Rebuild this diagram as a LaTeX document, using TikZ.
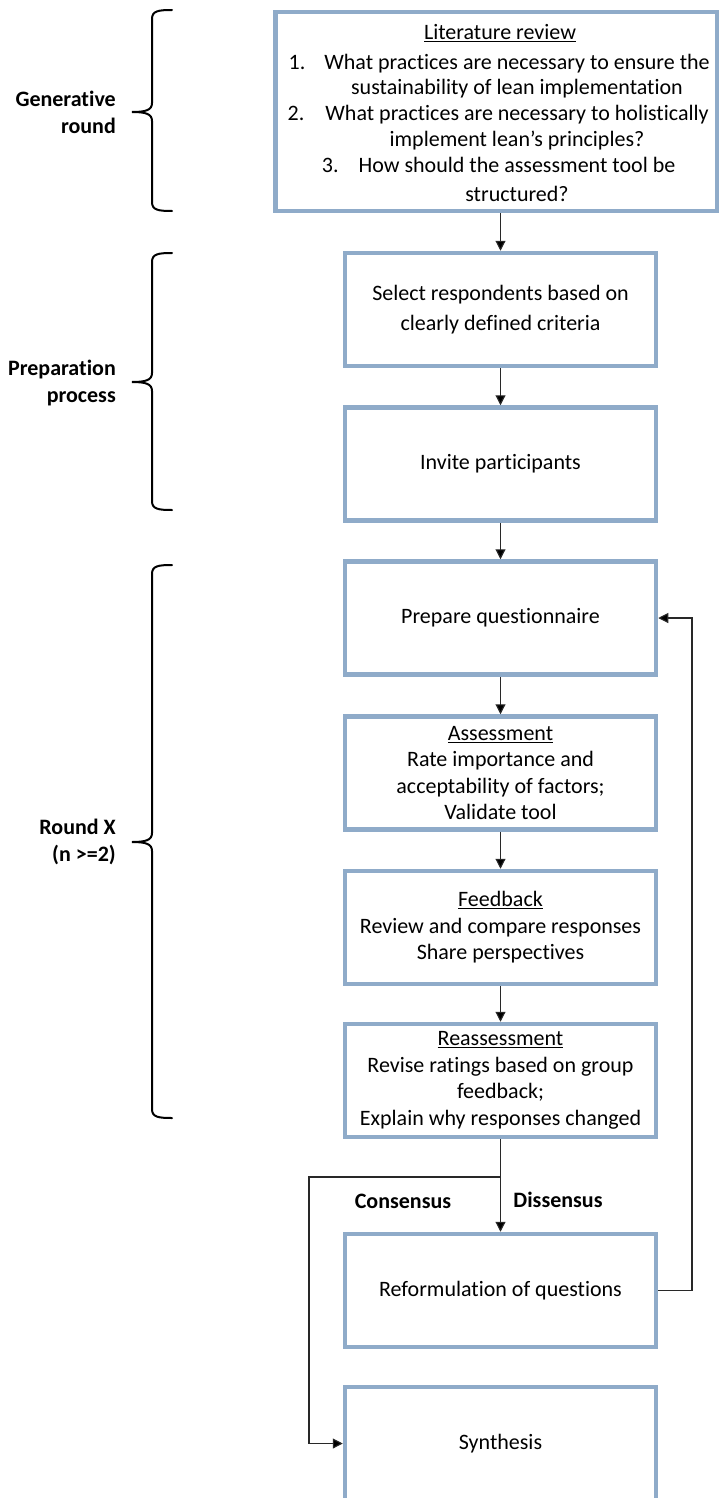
\documentclass[tikz,border=0pt]{standalone}
\usepackage{fontspec}
\setmainfont{Carlito}[Ligatures=NoCommon]
\usetikzlibrary{arrows.meta}
\definecolor{boxblue}{RGB}{143,171,201}
\definecolor{linegrey}{RGB}{40,40,40}
\tikzset{
  box/.style={draw=boxblue, line width=4.5pt, fill=white, minimum width=311pt, minimum height=113pt,
    inner sep=0pt, align=center, font=\fontsize{22}{26.5}\selectfont},
  txt/.style={inner sep=0pt, align=center, font=\fontsize{22}{25.8}\selectfont},
  lbl/.style={inner sep=0pt, align=right, anchor=east, font=\bfseries\fontsize{22}{27}\selectfont},
  brlbl/.style={inner sep=0pt, font=\bfseries\fontsize{22}{26}\selectfont},
  conn/.style={line width=1.1pt, draw=linegrey, -{Triangle[length=10pt,width=10pt,fill=black]}},
  brace/.style={line width=2pt, draw=black, line cap=round}
}
\newcommand\mybrace[3]{%
  \draw[brace] (172,#1) .. controls (158,#1) and (152,#1+1) .. (152,#1+9)
    -- (152,#2-9) .. controls (152,#2-2) and (146,#2) .. (132,#2)
    .. controls (146,#2) and (152,#2+2) .. (152,#2+9)
    -- (152,#3-9) .. controls (152,#3-1) and (158,#3) .. (172,#3);}
\begin{document}
\begin{tikzpicture}[x=1pt,y=-1pt]
\useasboundingbox (0,0) rectangle (719,1498);
% boxes
\node[box, minimum width=441.5pt, minimum height=199pt] (b1) at (496,111.5) {};
\node[txt] (b1title) at (500,33) {\underline{Literature review}};
\node[txt] (b1q) at (517,127.5) {\llap{1.\hspace{19pt}}What practices are necessary to ensure the\\
  sustainability of lean implementation\\
  \llap{2.\hspace{21pt}}What practices are necessary to holistically\\
  implement lean’s principles?\\
  \llap{3.\hspace{20pt}}How should the assessment tool be\\[3pt]
  structured?};
\node[box] (b2) at (500.5,309.5) {Select respondents based on\\[3pt]clearly defined criteria};
\node[box] (b3) at (500.5,464) {Invite participants};
\node[box] (b4) at (500.5,618) {Prepare questionnaire};
\node[box] (b5) at (500.5,773) {\underline{Assessment}\\Rate importance and\\acceptability of factors;\\Validate tool};
\node[box] (b6) at (500.5,927.5) {\underline{Feedback}\\Review and compare responses\\Share perspectives};
\node[box] (b7) at (500.5,1080.5) {\underline{Reassessment}\\Revise ratings based on group\\feedback;\\Explain why responses changed};
\node[box] (b8) at (500.5,1290.5) {Reformulation of questions};
\node[box] (b9) at (500.5,1443.5) {Synthesis};
% connectors
\draw[conn] (b1.south -| b2.north) -- (b2.north);
\draw[conn] (b2) -- (b3);
\draw[conn] (b3) -- (b4);
\draw[conn] (b4) -- (b5);
\draw[conn] (b5) -- (b6);
\draw[conn] (b6) -- (b7);
\draw[conn] (b7) -- (b8);
\coordinate (split) at (b7.south |- 0,1177);
\coordinate (cons) at (309,1177);
\draw[conn] (split) -- (cons) |- (b9.west);
\coordinate (loop) at (692,1290.5);
\draw[conn] (b8.east) -- (loop) |- (b4.east);
\node[brlbl] (lcons) at (403,1201) {Consensus};
\node[brlbl] (ldiss) at (558,1200) {Dissensus};
% braces
\mybrace{10}{112}{211}
\mybrace{253}{382}{510}
\mybrace{565}{842}{1118}
\node[lbl] (g1) at (116,112) {Generative\\round};
\node[lbl] (g2) at (116,383.5) {Preparation\\process};
\node[lbl] (g3) at (116,841.5) {Round X\\(n >=2)};
\end{tikzpicture}
\end{document}
